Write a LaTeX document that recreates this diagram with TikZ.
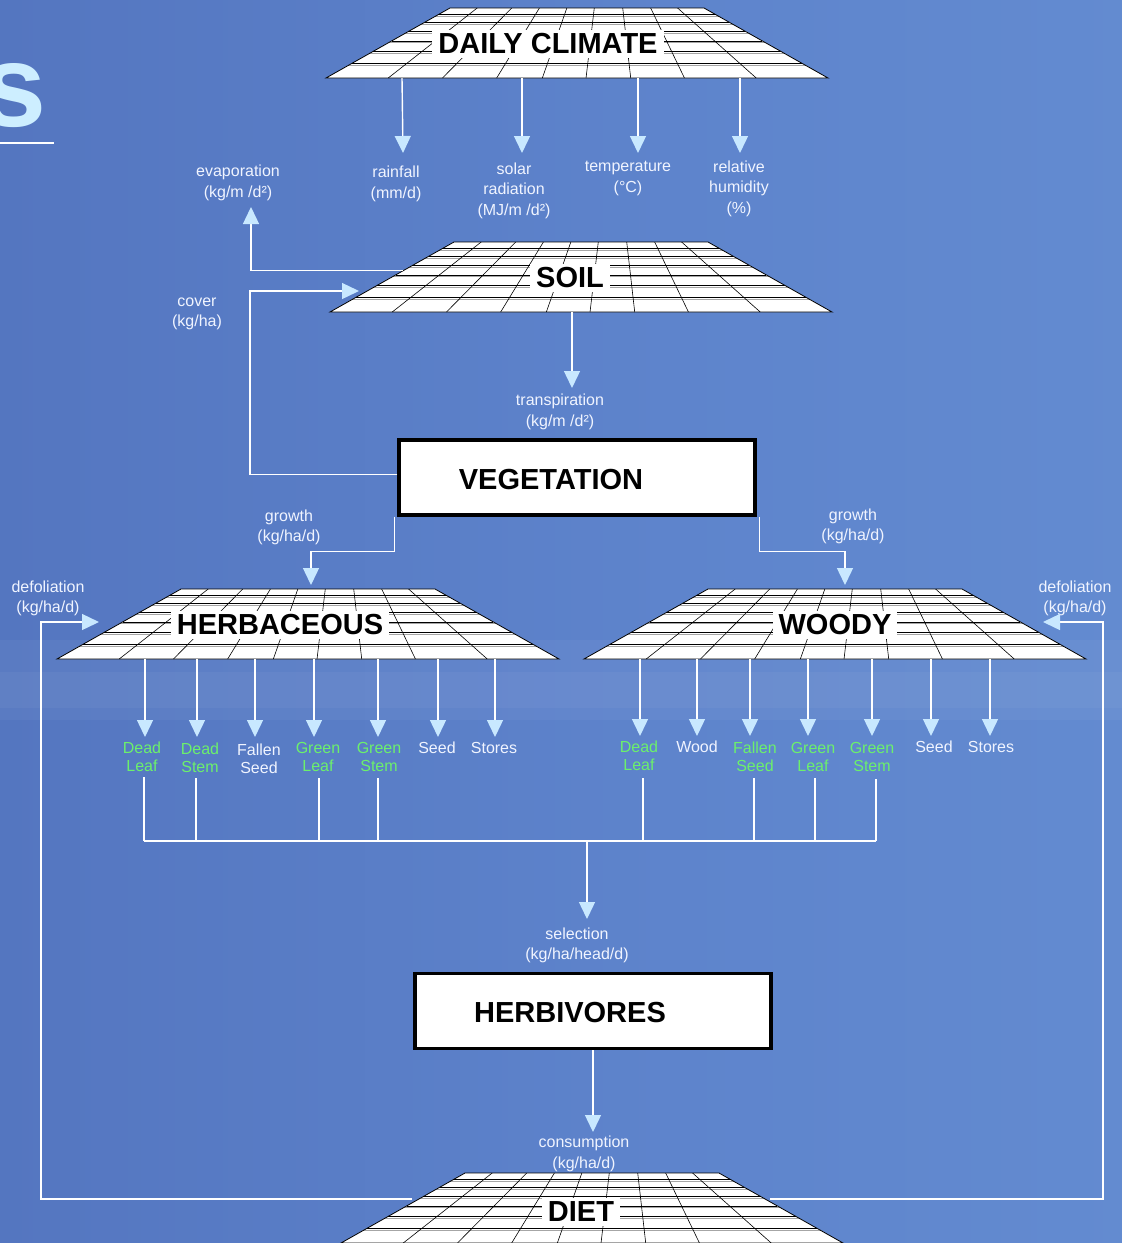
\documentclass[tikz,border=0pt]{standalone}
\usepackage{fontspec}
\setmainfont{Liberation Sans}
\usetikzlibrary{arrows.meta,calc}
\definecolor{bgA}{RGB}{76,106,182}
\definecolor{bgM}{RGB}{94,132,204}
\definecolor{bgB}{RGB}{118,166,226}
\definecolor{tipblue}{RGB}{200,232,255}
\definecolor{lblwhite}{RGB}{240,244,255}
\definecolor{lblgreen}{RGB}{108,240,108}
\definecolor{sblue}{RGB}{205,238,255}
\pgfdeclarehorizontalshading{bgshade}{100bp}{color(0bp)=(bgA); color(55bp)=(bgM); color(85bp)=(bgM!70!bgB); color(100bp)=(bgB)}
\newcommand\gridplate[6]{%
  \coordinate (#1-tl) at ({#2-127},#3);
  \coordinate (#1-tr) at ({#2+127},#3);
  \coordinate (#1-bl) at ({#2-251},{#3+70});
  \coordinate (#1-br) at ({#2+251},{#3+70});
  \fill[white] (#1-tl) -- (#1-tr) -- (#1-br) -- (#1-bl) -- cycle;
  \begin{scope}
    \clip (#1-tl) -- (#1-tr) -- (#1-br) -- (#1-bl) -- cycle;
    \foreach \f in {0.085,0.2,0.33,0.47,0.62,0.79}{
      \draw[gridshade] ($(#1-tl)!\f!(#1-bl)+(-5,2)$) -- ($(#1-tr)!\f!(#1-br)+(5,2)$);
      \draw[gridline] ($(#1-tl)!\f!(#1-bl)$) -- ($(#1-tr)!\f!(#1-br)$);}
    \foreach \t/\b in {0.107/0.124,0.243/0.232,0.352/0.340,0.46/0.431,0.568/0.518,0.68/0.607,0.79/0.714,0.896/0.857}{
      \draw[gridline] ($(#1-tl)!\t!(#1-tr)$) -- ($(#1-bl)!\b!(#1-br)$);}
  \end{scope}
  \draw[plateedge] (#1-tl) -- (#1-tr) -- (#1-br) -- (#1-bl) -- cycle;
  \node[platelabel] (#1) at ({#2+#4},{#3+#5}) {#6};
}
\begin{document}
\begin{tikzpicture}[x=1pt,y=-1pt,
  gridline/.style={draw=black, line width=0.6pt},
  gridshade/.style={draw=black!35, line width=0.9pt},
  plateedge/.style={draw=black, line width=0.8pt},
  platelabel/.style={fill=white, inner xsep=6pt, inner ysep=4pt, font=\fontsize{29}{30}\selectfont\bfseries},
  flow/.style={draw=white, line width=1.4pt, -{Triangle[length=17pt,width=16pt,color=tipblue]}},
  link/.style={draw=white, line width=1.4pt},
  lbl/.style={text=lblwhite, font=\fontsize{16}{20.5}\selectfont, align=center, inner sep=0pt},
  part/.style={text=lblwhite, font=\fontsize{16}{18}\selectfont, align=center, inner sep=0pt},
  gpart/.style={part, text=lblgreen},
  boxnode/.style={draw=black, line width=3.5pt, fill=white, minimum width=356pt, minimum height=75pt, inner sep=0pt},
  boxtext/.style={font=\fontsize{29}{30}\selectfont\bfseries, inner sep=0pt}]
\useasboundingbox (0,0) rectangle (1122,1243);
\clip (0,0) rectangle (1122,1243);
% background
\shade[shading=bgshade] (0,0) rectangle (1122,1243);
\fill[white, opacity=0.04] (0,640) rectangle (1122,720);
\fill[white, opacity=0.04] (0,672) rectangle (1122,708);
% title fragment
\node[anchor=base east, inner sep=0pt, text=sblue, font=\fontsize{117}{117}\selectfont\bfseries] (stitle) at (47,126) {s};
\draw[white, line width=2.5pt] (0,143) -- (54,143);

% plates
\gridplate{climate}{577}{8}{-29}{36}{DAILY CLIMATE}
\gridplate{soil}{581}{242}{-11}{36}{SOIL}
\gridplate{herb}{308}{589}{-28}{36}{HERBACEOUS}
\gridplate{woody}{835}{589}{0}{36}{WOODY}
\gridplate{diet}{592}{1173}{-11}{39}{DIET}

% boxes
\node[boxnode] (veg) at (577,477.5) {};
\node[boxtext] (vegt) at (551,480) {VEGETATION};
\node[boxnode] (herbiv) at (593,1011) {};
\node[boxtext] (herbivt) at (570,1013) {HERBIVORES};

% labels
\node[lbl] (evap) at (238,183) {evaporation\\(kg/m /d²)};
\node[lbl] (rain) at (396,184) {rainfall\\(mm/d)};
\node[lbl] (solar) at (514,190.5) {solar\\radiation\\(MJ/m /d²)};
\node[lbl] (temp) at (628,178.5) {temperature\\(°C)};
\node[lbl] (humid) at (739,188.5) {relative\\humidity\\(\%)};
\node[lbl] (cover) at (197,314) {cover\\(kg/ha)};
\node[lbl] (transp) at (560,412) {transpiration\\(kg/m /d²)};
\node[lbl] (growL) at (289,527.5) {growth\\(kg/ha/d)};
\node[lbl] (growR) at (853,526.5) {growth\\(kg/ha/d)};
\node[lbl] (defL) at (48,598.5) {defoliation\\(kg/ha/d)};
\node[lbl] (defR) at (1075,598.5) {defoliation\\(kg/ha/d)};
\node[lbl] (select) at (577,945.5) {selection\\(kg/ha/head/d)};
\node[lbl] (consum) at (584,1154) {consumption\\(kg/ha/d)};

% climate arrows
\coordinate (rainTip) at (403,153);
\coordinate (solarTip) at (522,153);
\coordinate (tempTip) at (638,153);
\coordinate (humidTip) at (740,153);
\draw[flow] (402,0 |- climate-bl) -- (rainTip);
\draw[flow] (522,0 |- climate-bl) -- (solarTip);
\draw[flow] (638,0 |- climate-bl) -- (tempTip);
\draw[flow] (740,0 |- climate-bl) -- (humidTip);

% soil connectors
\coordinate (evapTip) at (251,207);
\coordinate (coverTip) at (359,291);
\coordinate (transTip) at (572,388);
\draw[flow] ($(soil-tl)!0.41!(soil-bl)$) -| (evapTip);
\draw[flow] ([yshift=3pt]veg.west) -| (250,291) -- (coverTip);
\draw[flow] (572,0 |- soil-bl) -- (transTip);

% growth
\coordinate (herbIn) at (311,585);
\coordinate (woodyIn) at (845,585);
\draw[flow] (veg.south west) ++(-3,0) -- ++(0,35) -| (herbIn);
\draw[flow] (veg.south east) ++(3,0) -- ++(0,35) -| (woodyIn);

% herbaceous parts
\node[gpart] (hdl) at (142,757) {Dead\\Leaf};
\node[gpart] (hds) at (200,758) {Dead\\Stem};
\node[part] (hfs) at (259,758.5) {Fallen\\Seed};
\node[gpart] (hgl) at (318,757) {Green\\Leaf};
\node[gpart] (hgs) at (379,757) {Green\\Stem};
\node[part] (hse) at (437,748) {Seed};
\node[part] (hst) at (494,748) {Stores};
% woody parts
\node[gpart] (wdl) at (639,756) {Dead\\Leaf};
\node[part] (wwo) at (697,747) {Wood};
\node[gpart] (wfs) at (755,757) {Fallen\\Seed};
\node[gpart] (wgl) at (813,757) {Green\\Leaf};
\node[gpart] (wgs) at (872,757) {Green\\Stem};
\node[part] (wse) at (934,747) {Seed};
\node[part] (wst) at (991,747) {Stores};

\foreach \x in {145,197,255,314,378,438,495}{
  \draw[flow] (\x,0 |- herb-bl) -- (\x,737);}
\foreach \x in {640,697,750,808,872,931,990}{
  \draw[flow] (\x,0 |- woody-bl) -- (\x,736);}

% selection bus
\coordinate (busL) at (144,841);
\coordinate (busR) at (876,841);
\coordinate (busM) at (587,841);
\coordinate (selTip) at (587,919);
\draw[link] (busL) -- (busR);
\draw[link] (144,777) -- (144,0 |- busL);
\draw[link] (196,778) -- (196,0 |- busL);
\draw[link] (319,778) -- (319,0 |- busL);
\draw[link] (378,778) -- (378,0 |- busL);
\draw[link] (643,778) -- (643,0 |- busL);
\draw[link] (754,778) -- (754,0 |- busL);
\draw[link] (815,778) -- (815,0 |- busL);
\draw[link] (876,779) -- (busR);
\draw[flow] (busM) -- (selTip);

% consumption
\coordinate (consTip) at (593,1132);
\draw[flow] (593,0 |- herbiv.south) -- (consTip);

% defoliation
\coordinate (dietL) at (412,1199);
\coordinate (dietR) at (770,1199);
\coordinate (defLTip) at (99,622);
\coordinate (defRTip) at (1043,622);
\draw[flow] (dietL) -| (41,622) -- (defLTip);
\draw[flow] (dietR) -| (1103,622) -- (defRTip);
\end{tikzpicture}
\end{document}
